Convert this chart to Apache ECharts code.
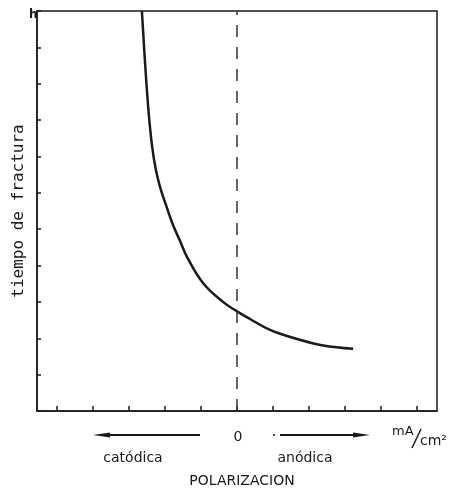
<!DOCTYPE html>
<html><head><meta charset="utf-8">
<script src="https://cdn.jsdelivr.net/npm/echarts@6/dist/echarts.min.js"></script>
<style>html,body{margin:0;padding:0;background:#fff}#c{width:452px;height:492px}</style>
</head><body><div id="c"></div>
<script>
// Curve: tiempo de fractura vs polarización (arbitrary units)
const curveX = [-2.639, -2.556, -2.458, -2.361, -2.250, -2.111, -1.972, -1.778, -1.583, -1.389, -0.944, -0.389, 0, 0.361, 0.917, 1.667, 2.389, 3.222];
const curveY = [11.0, 9.65, 8.28, 7.32, 6.63, 6.08, 5.67, 5.12, 4.68, 4.24, 3.52, 3.00, 2.74, 2.53, 2.23, 1.98, 1.80, 1.71];
const xTickValues = [-5, -4, -3, -2, -1, 0, 1, 2, 3, 4, 5];
const zeroLineX = [0];
const yAxisTitle = 'tiempo de fractura';
const yUnit = 'h';
const xUnitMain = 'mA';
const xUnitDen = 'cm²';
const leftLabel = 'catódica';
const rightLabel = 'anódica';
const zeroLabel = '0';
const xAxisTitle = 'POLARIZACION';

const ink = '#1a1a1a';
const font = 'DejaVu Sans';

const chart = echarts.init(document.getElementById('c'), null, {renderer: 'canvas'});
const data = curveX.map((x, i) => [x, curveY[i]]);

chart.setOption({
  backgroundColor: '#ffffff',
  animation: false,
  grid: {left: 37, right: 15, top: 11, bottom: 81, show: true, borderColor: ink, borderWidth: 1.5},
  xAxis: {
    type: 'value', min: -5.55, max: 5.55,
    axisLine: {show: true, onZero: false, lineStyle: {color: ink, width: 1.5}},
    axisTick: {show: true, inside: true, length: 5, customValues: xTickValues, lineStyle: {color: ink, width: 1.5}},
    axisLabel: {show: false},
    splitLine: {show: false}
  },
  yAxis: {
    type: 'value', min: 0, max: 11, interval: 1,
    name: yAxisTitle, nameLocation: 'middle', nameRotate: 90, nameGap: 10,
    nameTextStyle: {fontFamily: 'DejaVu Sans Mono', fontSize: 16, color: ink},
    axisLine: {show: true, onZero: false, lineStyle: {color: ink, width: 1.5}},
    axisTick: {show: true, inside: true, length: 4, lineStyle: {color: ink, width: 1.5}},
    axisLabel: {show: false},
    splitLine: {show: false}
  },
  series: [{
    type: 'line', data: data, smooth: 0.4, showSymbol: false,
    lineStyle: {color: ink, width: 2.5},
    markLine: {
      silent: true, symbol: ['none', 'none'], label: {show: false},
      lineStyle: {color: '#333', width: 1.5, type: [12, 10]},
      data: zeroLineX.map(v => ({xAxis: v}))
    }
  }],
  graphic: [
    {type: 'text', left: 29, top: 9, style: {text: yUnit, font: 'bold 12px ' + font, fill: ink}},
    // left arrow (catódica)
    {type: 'line', shape: {x1: 100, y1: 435, x2: 200, y2: 435}, style: {stroke: ink, lineWidth: 1.8}},
    {type: 'polygon', shape: {points: [[93, 435], [110, 432.5], [110, 437.5]]}, style: {fill: ink}},
    // right arrow (anódica)
    {type: 'circle', shape: {cx: 274, cy: 435, r: 1}, style: {fill: ink}},
    {type: 'line', shape: {x1: 280, y1: 435, x2: 362, y2: 435}, style: {stroke: ink, lineWidth: 1.8}},
    {type: 'polygon', shape: {points: [[370, 435], [353, 432.5], [353, 437.5]]}, style: {fill: ink}},
    {type: 'text', x: 238, y: 437, style: {text: zeroLabel, font: '14px ' + font, fill: ink, align: 'center', verticalAlign: 'middle'}},
    {type: 'text', x: 133, y: 458, style: {text: leftLabel, font: '14px ' + font, fill: ink, align: 'center', verticalAlign: 'middle'}},
    {type: 'text', x: 305, y: 458, style: {text: rightLabel, font: '14px ' + font, fill: ink, align: 'center', verticalAlign: 'middle'}},
    {type: 'text', x: 242, y: 481, style: {text: xAxisTitle, font: '14px ' + font, fill: ink, align: 'center', verticalAlign: 'middle'}},
    {type: 'text', x: 392, y: 425, style: {text: xUnitMain, font: '13px ' + font, fill: ink}},
    {type: 'line', shape: {x1: 412, y1: 448, x2: 421, y2: 429}, style: {stroke: ink, lineWidth: 1.5}},
    {type: 'text', x: 420, y: 434, style: {text: xUnitDen, font: '14px ' + font, fill: ink}}
  ]
});
</script></body></html>
